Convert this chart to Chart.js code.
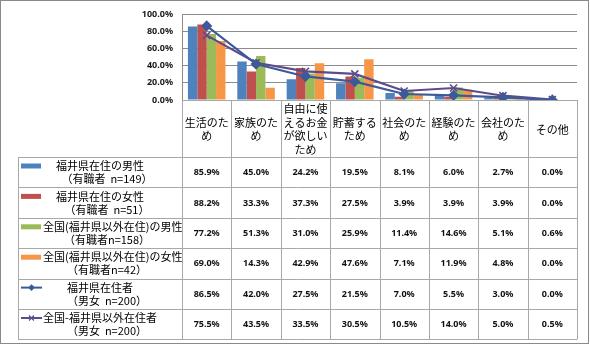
<!DOCTYPE html>
<html>
<head>
<meta charset="utf-8">
<script src="https://cdn.jsdelivr.net/npm/chart.js@4"></script>
<style>
  html, body { margin: 0; padding: 0; background: #fff; }
  #wrap { width: 590px; height: 346px; }
</style>
</head>
<body>
<div id="wrap"><canvas id="chart" width="590" height="346"></canvas></div>
<script>
// ---- data ----
const categories = [
  ['生活のた', 'め'],
  ['家族のた', 'め'],
  ['自由に使', 'えるお金', 'が欲しい', 'ため'],
  ['貯蓄する', 'ため'],
  ['社会のた', 'め'],
  ['経験のた', 'め'],
  ['会社のた', 'め'],
  ['その他']
];

const fukuiMale     = [85.9, 45.0, 24.2, 19.5, 8.1, 6.0, 2.7, 0.0];
const fukuiFemale   = [88.2, 33.3, 37.3, 27.5, 3.9, 3.9, 3.9, 0.0];
const otherMale     = [77.2, 51.3, 31.0, 25.9, 11.4, 14.6, 5.1, 0.6];
const otherFemale   = [69.0, 14.3, 42.9, 47.6, 7.1, 11.9, 4.8, 0.0];
const fukuiAll      = [86.5, 42.0, 27.5, 21.5, 7.0, 5.5, 3.0, 0.0];
const otherAll      = [75.5, 43.5, 33.5, 30.5, 10.5, 14.0, 5.0, 0.5];

const seriesNames = [
  ['福井県在住の男性', '（有職者  n=149）'],
  ['福井県在住の女性', '（有職者  n=51）'],
  ['全国(福井県以外在住)の男性', '（有職者n=158）'],
  ['全国(福井県以外在住)の女性', '（有職者n=42）'],
  ['福井県在住者', '（男女  n=200）'],
  ['全国-福井県以外在住者', '（男女  n=200）']
];

const yTicks = [0, 20, 40, 60, 80, 100];

// ---- style ----
const FONT = "'Noto Sans', 'Noto Sans CJK JP', sans-serif";
const JP_FONT = "'Noto Sans CJK JP', 'Noto Sans', sans-serif";
const GRID = '#8c8c8c';
const TABLE_LINE = '#a8a8a8';

const barColors = ['#4F81BD', '#C0504D', '#9BBB59', '#F79646'];
const lineColors = ['#3D5A98', '#5E4B8C'];

function barSet(label, data, color) {
  return {
    type: 'bar', label, data, order: 2,
    backgroundColor: color, borderWidth: 0,
    categoryPercentage: 0.76, barPercentage: 1.0
  };
}

function lineSet(label, data, color, style, radius) {
  return {
    type: 'line', label, data, order: 0,
    borderColor: color, backgroundColor: color, borderWidth: 2.2,
    pointStyle: style, pointRadius: radius, pointBorderWidth: 1.6,
    pointBackgroundColor: color, pointBorderColor: color,
    tension: 0
  };
}

const datasets = [
  barSet(seriesNames[0].join(''), fukuiMale, barColors[0]),
  barSet(seriesNames[1].join(''), fukuiFemale, barColors[1]),
  barSet(seriesNames[2].join(''), otherMale, barColors[2]),
  barSet(seriesNames[3].join(''), otherFemale, barColors[3]),
  lineSet(seriesNames[4].join(''), fukuiAll, lineColors[0], 'rectRot', 4.5),
  lineSet(seriesNames[5].join(''), otherAll, lineColors[1], 'crossRot', 5)
];

// ---- data table under the plot ----
const tablePlugin = {
  id: 'dataTable',
  afterDraw(chart) {
    const ctx = chart.ctx;
    const area = chart.chartArea;
    const x = chart.scales.x;
    const n = categories.length;
    const colW = (area.right - area.left) / n;
    const tableLeft = 18;
    const headTop = area.bottom;
    const headBottom = 157;
    const rowH = 30.4;
    const rows = chart.data.datasets.length;
    const tableBottom = headBottom + rowH * rows;

    ctx.save();
    // grid of the table
    ctx.strokeStyle = TABLE_LINE;
    ctx.lineWidth = 1;
    ctx.beginPath();
    for (let i = 0; i <= n; i++) {
      const cx = Math.round(area.left + colW * i) + 0.5;
      ctx.moveTo(cx, headTop);
      ctx.lineTo(cx, tableBottom);
    }
    ctx.moveTo(tableLeft + 0.5, headBottom);
    ctx.lineTo(tableLeft + 0.5, tableBottom);
    for (let r = 0; r <= rows; r++) {
      const ry = Math.round(headBottom + rowH * r) + 0.5;
      ctx.moveTo(tableLeft, ry);
      ctx.lineTo(area.right, ry);
    }
    ctx.stroke();

    // header labels
    ctx.fillStyle = '#000';
    ctx.font = '11px ' + JP_FONT;
    ctx.textAlign = 'center';
    ctx.textBaseline = 'middle';
    const lh = 13.5;
    const midY = (headTop + headBottom) / 2 + 1;
    categories.forEach((lines, i) => {
      const cx = x.getPixelForValue(i);
      const y0 = midY - (lines.length - 1) * lh / 2;
      lines.forEach((t, k) => ctx.fillText(t, cx, y0 + k * lh));
    });

    // rows: legend key, series name, values
    chart.data.datasets.forEach((ds, r) => {
      const top = headBottom + rowH * r;
      const y1 = top + 9;
      const y2 = top + 22;
      const name = seriesNames[r];

      if (ds.type === 'bar') {
        ctx.fillStyle = ds.backgroundColor;
        ctx.fillRect(21, y1 - 2.5, 20, 5);
      } else {
        ctx.strokeStyle = ds.borderColor;
        ctx.lineWidth = 2;
        ctx.beginPath();
        ctx.moveTo(21, y1);
        ctx.lineTo(42, y1);
        ctx.stroke();
        ctx.fillStyle = ds.backgroundColor;
        ctx.lineWidth = 1.2;
        Chart.helpers.drawPoint(ctx, {
          pointStyle: ds.pointStyle,
          radius: ds.pointStyle === 'rectRot' ? 2.5 : 3.5,
          borderWidth: 1.2, rotation: 0
        }, 31.5, y1);
      }

      ctx.fillStyle = '#000';
      ctx.font = '11px ' + JP_FONT;
      ctx.textAlign = 'left';
      const w1 = ctx.measureText(name[0]).width;
      ctx.fillText(name[0], Math.max(43, 100 - w1 / 2), y1);
      const w2 = ctx.measureText(name[1]).width;
      ctx.fillText(name[1], 107 - w2 / 2, y2);

      ctx.textAlign = 'center';
      ctx.font = 'bold 9px ' + FONT;
      ctx.fillStyle = '#111';
      ds.data.forEach((v, i) => {
        ctx.fillText(v.toFixed(1) + '%', x.getPixelForValue(i), top + rowH / 2 + 0.5);
      });
    });

    // outer frame
    ctx.strokeStyle = '#8a8a8a';
    ctx.lineWidth = 1;
    ctx.strokeRect(0.5, 0.5, 588, 343);
    ctx.restore();
  }
};

new Chart(document.getElementById('chart'), {
  data: {
    labels: categories.map(c => c.join('')),
    datasets
  },
  options: {
    responsive: false,
    devicePixelRatio: 1,
    animation: false,
    layout: { padding: { left: 132, right: 13, top: 12, bottom: 246 } },
    plugins: {
      legend: { display: false },
      tooltip: { enabled: false }
    },
    scales: {
      x: {
        ticks: { display: false },
        grid: { display: false, drawTicks: false },
        border: { display: true, color: TABLE_LINE },
        afterFit(scale) { scale.height = 0; }
      },
      y: {
        min: 0,
        max: 100,
        afterBuildTicks(scale) { scale.ticks = yTicks.map(v => ({ value: v })); },
        afterFit(scale) { scale.width = 50; },
        ticks: {
          padding: 9,
          color: '#1a1a1a',
          font: { family: FONT, size: 9, weight: 'bold' },
          callback: v => v.toFixed(1) + '%'
        },
        grid: { color: GRID, drawTicks: false },
        border: { color: GRID }
      }
    }
  },
  plugins: [tablePlugin]
});
</script>
</body>
</html>
